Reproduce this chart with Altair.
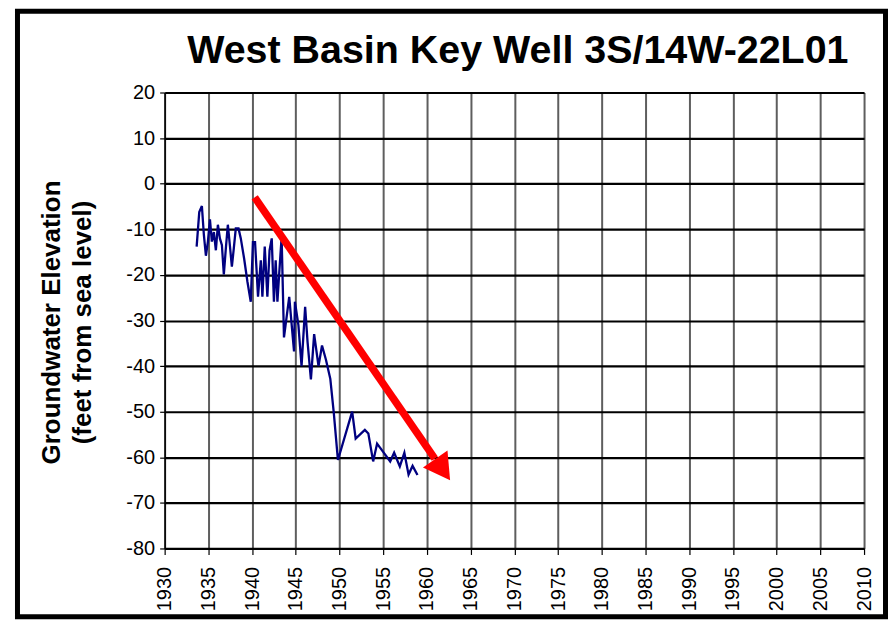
import altair as alt
import pandas as pd

# ---- data ----
years = [1933.66, 1933.96, 1934.26, 1934.49, 1934.72, 1934.95, 1935.18, 1935.40, 1935.63, 1935.86,
         1936.09, 1936.32, 1936.55, 1936.77, 1937.00, 1937.23, 1937.46, 1937.69, 1937.91, 1938.14,
         1938.45, 1938.71, 1939.09, 1939.47, 1939.85, 1940.10, 1940.34, 1940.68, 1941.00, 1941.18,
         1941.45, 1941.75, 1942.00, 1942.25, 1942.50, 1942.70, 1942.90, 1943.08, 1943.38, 1943.65,
         1944.25, 1944.80, 1944.90, 1945.30, 1945.66, 1946.07, 1946.35, 1946.73, 1947.10, 1947.60,
         1948.00, 1948.45, 1948.95, 1949.35, 1949.82, 1951.45, 1951.85, 1952.90, 1953.30, 1953.85,
         1954.30, 1955.80, 1956.25, 1956.90, 1957.42, 1957.90, 1958.36, 1958.92]
elevation = [-13.8, -6.2, -4.9, -11.3, -15.8, -12.7, -7.8, -12.7, -10.6, -14.6,
             -9.0, -12.0, -13.5, -19.9, -14.2, -9.0, -13.5, -18.2, -14.2, -9.8,
             -9.8, -12.0, -16.4, -21.5, -25.9, -12.8, -12.8, -24.8, -16.8, -24.8,
             -13.8, -24.8, -14.6, -12.0, -25.9, -16.8, -25.9, -20.4, -11.7, -33.7,
             -24.8, -36.8, -25.9, -31.0, -40.0, -27.0, -34.8, -42.9, -33.0, -40.0,
             -35.5, -38.6, -42.8, -50.3, -60.6, -50.0, -55.9, -54.0, -54.8, -60.9,
             -57.0, -60.9, -59.0, -62.0, -59.0, -63.8, -61.9, -63.9]

x_ticks = list(range(1930, 2011, 5))
y_ticks = list(range(-80, 21, 10))

title_text = "West Basin Key Well 3S/14W-22L01"
y_title_1 = "Groundwater Elevation"
y_title_2 = "(feet from sea level)"

arrow_start = [1940.3, -3.0]
arrow_end = [1960.9, -60.3]
arrow_head = [1961.8, -62.7]

FONT = "Liberation Sans"
W, H = 701, 457
PAD_B = 71

df = pd.DataFrame({"year": years, "elev": elevation})
x_scale = alt.Scale(domain=[1930, 2010], nice=False, zero=False)
y_scale = alt.Scale(domain=[-80, 20], nice=False, zero=False)

line = alt.Chart(df).mark_line(color="#000080", strokeWidth=2.3).encode(
    x=alt.X("year:Q", scale=x_scale,
            axis=alt.Axis(title=None, values=x_ticks, format="d", labelAngle=270,
                          labelFont=FONT, labelFontSize=20, labelColor="black",
                          labelPadding=12, tickSize=6, tickColor="black", tickWidth=1.2,
                          domainColor="black", domainWidth=1.2,
                          grid=True, gridColor="#5e5e5e", gridWidth=2,
                          labelFlush=False, labelOverlap=False)),
    y=alt.Y("elev:Q", scale=y_scale,
            axis=alt.Axis(title=None, values=y_ticks, labelExpr="'' + datum.value",
                          labelFont=FONT, labelFontSize=20, labelColor="black",
                          labelPadding=5, tickSize=5, tickColor="black", tickWidth=1.2,
                          domainColor="black", domainWidth=1.5,
                          grid=True, gridColor="black", gridWidth=2.2,
                          labelFlush=False, labelOverlap=False)),
)

arrow_df = pd.DataFrame({"x": [arrow_start[0]], "y": [arrow_start[1]],
                         "x2": [arrow_end[0]], "y2": [arrow_end[1]]})
shaft = alt.Chart(arrow_df).mark_rule(color="#FF0000", strokeWidth=7.5, strokeCap="butt").encode(
    x=alt.X("x:Q", scale=x_scale), y=alt.Y("y:Q", scale=y_scale),
    x2="x2:Q", y2="y2:Q")

head_df = pd.DataFrame({"x": [arrow_head[0]], "y": [arrow_head[1]]})
head = alt.Chart(head_df).mark_point(shape="triangle-up", filled=True, size=900, angle=145,
                                     color="#FF0000", opacity=1, strokeWidth=0).encode(
    x=alt.X("x:Q", scale=x_scale), y=alt.Y("y:Q", scale=y_scale))

one = pd.DataFrame({"t1": [title_text], "a1": [y_title_1], "a2": [y_title_2]})
title = alt.Chart(one).mark_text(font=FONT, fontSize=39.5, fontWeight="bold", color="black",
                                 align="center", baseline="alphabetic").encode(
    text="t1:N", x=alt.value(354), y=alt.value(-30))
yt1 = alt.Chart(one).mark_text(font=FONT, fontSize=26, fontWeight="bold", color="black",
                               align="center", baseline="middle", angle=270).encode(
    text="a1:N", x=alt.value(-113), y=alt.value(H / 2 + 2))
yt2 = alt.Chart(one).mark_text(font=FONT, fontSize=26, fontWeight="bold", color="black",
                               align="center", baseline="middle", angle=270).encode(
    text="a2:N", x=alt.value(-82), y=alt.value(H / 2 + 2))

frame = alt.Chart(one).mark_rect(fillOpacity=0, stroke="black", strokeWidth=5).encode(
    x=alt.value(-147.5), x2=alt.value(722.5), y=alt.value(-81.5), y2=alt.value(H + PAD_B - 2.5))

chart = alt.layer(line, shaft, head, title, yt1, yt2, frame).properties(
    width=W, height=H,
    autosize=alt.AutoSizeParams(type="none"),
    padding={"left": 157, "top": 84, "right": 24, "bottom": PAD_B},
    background="white",
).configure_view(strokeWidth=0)

chart.save("out.html", embed_options={"renderer": "svg", "actions": False})
